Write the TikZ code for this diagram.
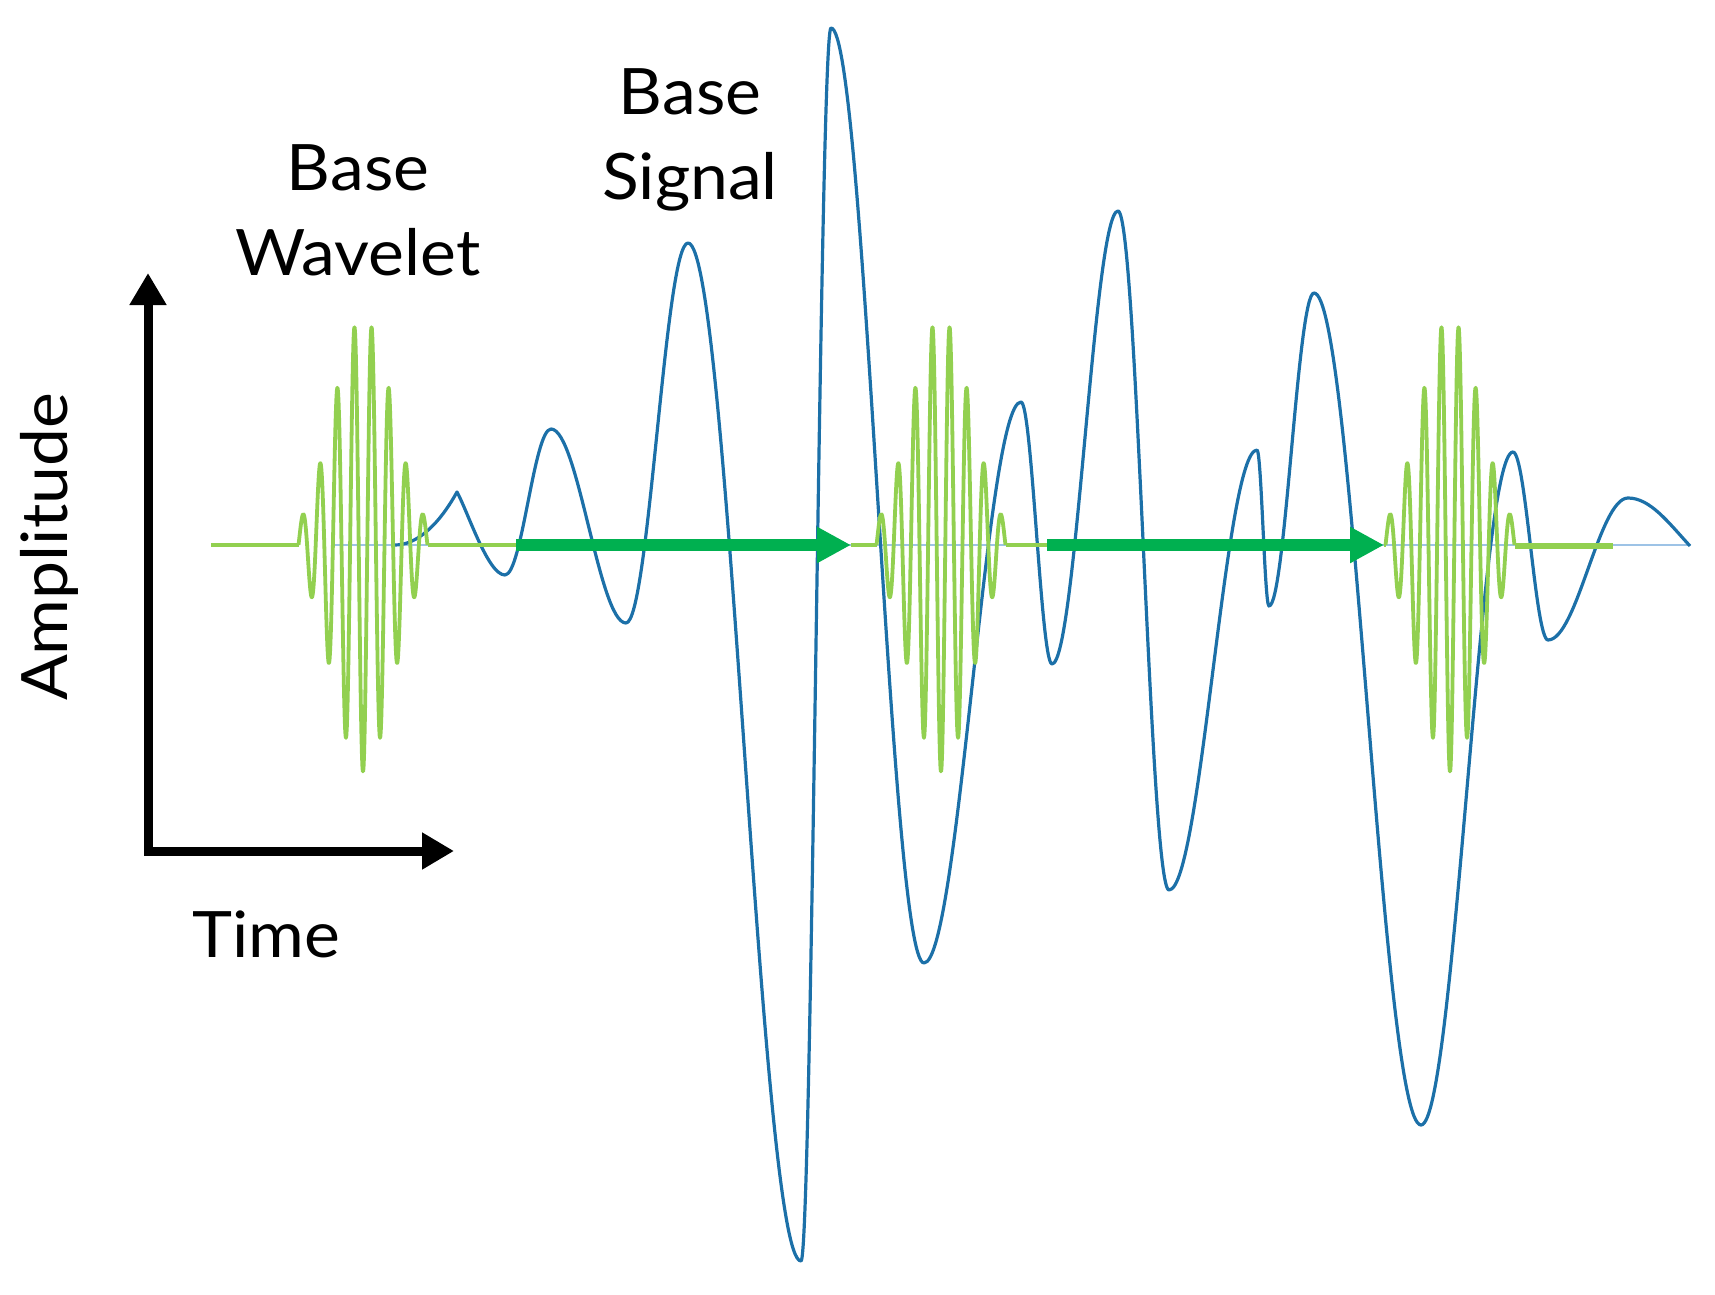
\documentclass[tikz,border=0pt]{standalone}
\usepackage{fontspec}
\setmainfont{Lato}[FakeStretch=1.06]
\usetikzlibrary{arrows.meta}
\definecolor{sigblue}{RGB}{28,112,168}
\definecolor{zeroblue}{RGB}{157,195,230}
\definecolor{wavgreen}{RGB}{146,208,80}
\definecolor{arrgreen}{RGB}{0,176,80}
\begin{document}
\begin{tikzpicture}[x=0.5pt,y=-0.5pt,
  lbl/.style={inner sep=0pt, font=\fontsize{32}{40}\selectfont},
  sig/.style={draw=sigblue, line width=1.6pt, line join=round},
  zeroline/.style={draw=zeroblue, line width=1pt},
  wav/.style={draw=wavgreen, line width=1.9pt, line join=round},
  wavbase/.style={draw=wavgreen, line width=2.2pt},
  shiftarrow/.style={draw=arrgreen, line width=6pt, -{Triangle[length=17pt,width=17pt]}},
  axis/.style={draw=black, line width=4.5pt, line join=miter,
    {Triangle[length=16pt,width=17.5pt]}-{Triangle[length=16pt,width=17.5pt]}}
]
\useasboundingbox (0,0) rectangle (1715,1295);

% zero line of the signal
\coordinate (z0) at (333,545);
\coordinate (z1) at (1690,545);
\draw[zeroline] (z0) -- (z1);

% base signal
\draw[sig] (395,545) .. controls (415,545) and (437,528) .. (457,492)
 .. controls (468,512) and (488,575) .. (505,575)
 .. controls +(17,0) and +(-17,0) .. (551,429)
 .. controls +(27,0) and +(-27,0) .. (626,623)
 .. controls +(23,0) and +(-23,0) .. (688,243)
 .. controls +(41,0) and +(-41,0) .. (801,1261)
 .. controls +(11,0) and +(-11,0) .. (831,28)
 .. controls +(34,0) and +(-34,0) .. (924,963)
 .. controls +(35,0) and +(-35,0) .. (1021,402)
 .. controls +(11,0) and +(-11,0) .. (1052,664)
 .. controls +(24,0) and +(-24,0) .. (1118,211)
 .. controls +(19,0) and +(-19,0) .. (1169,890)
 .. controls +(32,0) and +(-32,0) .. (1257,450)
 .. controls +(4.4,0) and +(-4.4,0) .. (1269,606)
 .. controls +(16.4,0) and +(-16.4,0) .. (1314,293)
 .. controls +(39,0) and +(-39,0) .. (1421,1125)
 .. controls +(33.5,0) and +(-33.5,0) .. (1513,452)
 .. controls +(12.7,0) and +(-12.7,0) .. (1548,640)
 .. controls +(29,0) and +(-29,0) .. (1628,498)
 .. controls +(22,0) and (1668,522) .. (1690,546);

% wavelets
\foreach \c in {363,941,1450}{
  \draw[wav] plot[domain=-64.5:64.5, samples=300]
    ({\c+\x}, {545+227*exp(-(\x*\x)/1800)*cos(20.93*\x)});
}
\draw[wavbase] (211,545) -- (298.5,545);
\draw[wavbase] (427.5,545) -- (520,545);
\draw[wavbase] (851,545) -- (876.5,545);
\draw[wavbase] (1005.5,545) -- (1050,545);
\draw[wavbase] (1384,545) -- (1385.5,545);
\draw[wavbase, line width=2.6pt] (1514.5,546) -- (1613,546);

% shift arrows
\coordinate (a1s) at (516,545);
\coordinate (a1e) at (851,545);
\coordinate (a2s) at (1047,545);
\coordinate (a2e) at (1384,545);
\draw[shiftarrow] (a1s) -- (a1e);
\draw[shiftarrow] (a2s) -- (a2e);

% axes
\coordinate (ytip) at (148,273);
\coordinate (orig) at (148,851);
\coordinate (xtip) at (454,851);
\draw[axis] (ytip) -- (orig) -- (xtip);

% labels
\node[lbl, anchor=base] (sigA) at (690,115) {Base};
\node[lbl, anchor=base] (sigB) at (690,199) {Signal};
\node[lbl, anchor=base] (wavA) at (358,191) {Base};
\node[lbl, anchor=base] (wavB) at (358,276) {Wavelet};
\node[lbl, anchor=base] (time) at (266,957) {Time};
\node[lbl, anchor=base, rotate=90] (amp) at (68,547) {Amplitude};
\end{tikzpicture}
\end{document}
